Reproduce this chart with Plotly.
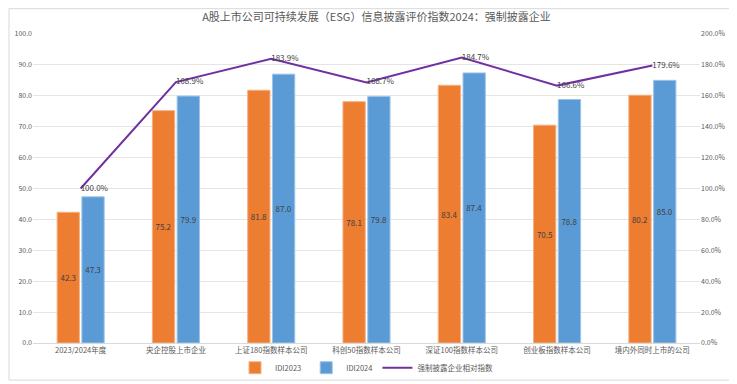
import plotly.graph_objects as go

categories = ["2023/2024年度", "央企控股上市企业", "上证180指数样本公司", "科创50指数样本公司",
              "深证100指数样本公司", "创业板指数样本公司", "境内外同时上市的公司"]
idi2023 = [42.3, 75.2, 81.8, 78.1, 83.4, 70.5, 80.2]
idi2024 = [47.3, 79.9, 87.0, 79.8, 87.4, 78.8, 85.0]
relative_index = [100.0, 168.9, 183.9, 168.7, 184.7, 166.6, 179.6]

FONT = "Noto Sans CJK SC, Microsoft YaHei, sans-serif"
GRAY = "#595959"

fig = go.Figure()
fig.add_trace(go.Bar(
    x=categories, y=idi2023, name="IDI2023",
    marker=dict(color="#ED7D31", line=dict(color="#F4B183", width=1)),
    text=[f"{v:.1f}" for v in idi2023], textposition="inside", textangle=0,
    insidetextanchor="middle", textfont=dict(size=8, color="#404040"),
))
fig.add_trace(go.Bar(
    x=categories, y=idi2024, name="IDI2024",
    marker=dict(color="#5B9BD5", line=dict(color="#9DC3E6", width=1)),
    text=[f"{v:.1f}" for v in idi2024], textposition="inside", textangle=0,
    insidetextanchor="middle", textfont=dict(size=8, color="#404040"),
))
fig.add_trace(go.Scatter(
    x=categories, y=relative_index, name="强制披露企业相对指数", yaxis="y2",
    mode="lines+text", line=dict(color="#7030A0", width=2),
    text=[f"{v:.1f}%" for v in relative_index], textposition="middle right",
    textfont=dict(size=8, color="#404040"),
))

fig.update_layout(
    width=737, height=384,
    margin=dict(l=25, r=45, t=26, b=49, autoexpand=False),
    paper_bgcolor="white", plot_bgcolor="white",
    font=dict(family=FONT, color=GRAY, size=8),
    title=dict(text="A股上市公司可持续发展（ESG）信息披露评价指数2024：强制披露企业",
               x=0.5, xanchor="center", y=0.977, yanchor="middle",
               font=dict(size=11, color=GRAY, family=FONT)),
    barmode="group", bargap=0.48, bargroupgap=0.1,
    xaxis=dict(showgrid=False, showline=True, linecolor="#D9D9D9", ticks="",
               automargin=False, tickangle=0, tickfont=dict(size=7.5, color=GRAY)),
    yaxis=dict(range=[0, 100], dtick=10, tickformat=".1f", gridcolor="#E5E5E5",
               zeroline=False, automargin=False, tickfont=dict(size=7, color=GRAY)),
    yaxis2=dict(range=[0, 200], dtick=20, tickformat=".1f", ticksuffix="%",
                overlaying="y", side="right", showgrid=False, zeroline=False,
                automargin=False, tickfont=dict(size=7, color=GRAY)),
    legend=dict(orientation="h", x=0.5, xanchor="center", y=-0.08, yanchor="middle",
                bgcolor="rgba(0,0,0,0)", itemwidth=30,
                font=dict(size=7.5, color=GRAY), traceorder="normal"),
    shapes=[dict(type="rect", xref="paper", yref="paper",
                 x0=-0.036, x1=1.049, y0=-0.12, y1=1.082,
                 line=dict(color="#D9D9D9", width=1), fillcolor="rgba(0,0,0,0)")],
)

fig.write_html("out.html")
